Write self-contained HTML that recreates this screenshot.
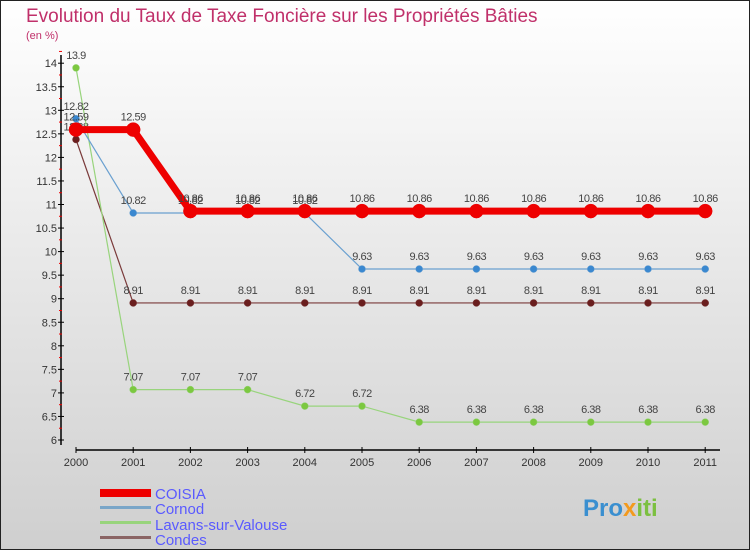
<!DOCTYPE html>
<html><head><meta charset="utf-8"><style>
body{margin:0;width:750px;height:550px;overflow:hidden}
svg{display:block;font-family:"Liberation Sans",sans-serif}
</style></head><body>
<svg id="c" width="750" height="550">
<defs><linearGradient id="bg" x1="0" y1="0" x2="0" y2="1"><stop offset="0" stop-color="#ffffff"/><stop offset="1" stop-color="#cfcfcf"/></linearGradient></defs>
<rect x="0.5" y="0.5" width="749" height="549" fill="url(#bg)" stroke="#222"/>
<text x="26" y="22" font-size="19" fill="#c0306a">Evolution du Taux de Taxe Foncière sur les Propriétés Bâties</text>
<text x="26" y="39" font-size="11" fill="#c0306a">(en %)</text>
<g id="axes"></g><g id="series"></g>
<g>
<rect x="100" y="489" width="51" height="8" fill="#e00"/>
<text x="155" y="499" font-size="15" fill="#5a5aff">COISIA</text>
<rect x="100" y="506" width="51" height="3" fill="#7aa6c8"/>
<text x="155" y="514" font-size="15" fill="#5a5aff">Cornod</text>
<rect x="100" y="521" width="51" height="3" fill="#98d47c"/>
<text x="155" y="530" font-size="15" fill="#5a5aff">Lavans-sur-Valouse</text>
<rect x="100" y="536" width="51" height="3" fill="#8a6464"/>
<text x="155" y="545" font-size="15" fill="#5a5aff">Condes</text>
</g>
<text x="583" y="516" font-size="24" font-weight="bold" fill="#3a8fd0">Pro<tspan fill="#f39a1e">x</tspan><tspan fill="#7cc040">iti</tspan></text>
</svg>
<script>
const years=[2000,2001,2002,2003,2004,2005,2006,2007,2008,2009,2010,2011];
const coisia=[12.59,12.59,10.86,10.86,10.86,10.86,10.86,10.86,10.86,10.86,10.86,10.86];
const cornod=[12.82,10.82,10.82,10.82,10.82,9.63,9.63,9.63,9.63,9.63,9.63,9.63];
const lavans=[13.9,7.07,7.07,7.07,6.72,6.72,6.38,6.38,6.38,6.38,6.38,6.38];
const condes=[12.38,8.91,8.91,8.91,8.91,8.91,8.91,8.91,8.91,8.91,8.91,8.91];
const yTicks=[6,6.5,7,7.5,8,8.5,9,9.5,10,10.5,11,11.5,12,12.5,13,13.5,14];
const NS="http://www.w3.org/2000/svg";
const X=i=>76+i*57.2;
const Y=v=>440-(v-6)*47.1;
function mk(p,t,a){const e=document.createElementNS(NS,t);for(const k in a)e.setAttribute(k,a[k]);p.appendChild(e);return e;}
const ax=document.getElementById('axes');
let e=mk(ax,'line',{x1:61,y1:55,x2:61,y2:445,stroke:'#000','stroke-width':1.5});


e=mk(ax,'line',{x1:76,y1:450,x2:720,y2:450,stroke:'#000','stroke-width':1.5});


yTicks.forEach(v=>{
 mk(ax,'line',{x1:58,x2:64,y1:Y(v),y2:Y(v),stroke:'#000'});
 mk(ax,'line',{x1:59,x2:62,y1:Y(v+0.25),y2:Y(v+0.25),stroke:'#e00'});
 const t=mk(ax,'text',{x:57,y:Y(v)+4,'font-size':11,'text-anchor':'end',fill:'#333'});t.textContent=String(v);
 
 
});
years.forEach((y,i)=>{
 mk(ax,'line',{x1:X(i),x2:X(i),y1:447,y2:453,stroke:'#000'});
 const t=mk(ax,'text',{x:X(i),y:466,'font-size':11,'text-anchor':'middle',fill:'#333'});t.textContent=y;
 
 
});
const sg=document.getElementById('series');
function draw(vals,color,dot,w,r,name){
 const g=mk(sg,'g',{});
 
 
 mk(g,'polyline',{points:vals.map((v,i)=>X(i)+','+Y(v)).join(' '),fill:'none',stroke:color,'stroke-width':w});
 vals.forEach((v,i)=>{
  const c=mk(g,'circle',{cx:X(i),cy:Y(v),r:r,fill:dot,stroke:color,'stroke-width':0.5});
  
  
  const t=mk(g,'text',{x:X(i),y:Y(v)-9,'font-size':11,'text-anchor':'middle',fill:'#444','letter-spacing':'-0.5'});t.textContent=String(v);
  
  
 });
}
draw(condes,'#7a3a3a','#6a1e1e',1.2,3.5,'condes');
draw(lavans,'#98d47c','#7cc840',1.2,3.5,'lavans');
draw(cornod,'#6aa0d0','#3a88d0',1.2,3.5,'cornod');
draw(coisia,'#e00','#e00',7,7,'coisia');
</script>
</body></html>
